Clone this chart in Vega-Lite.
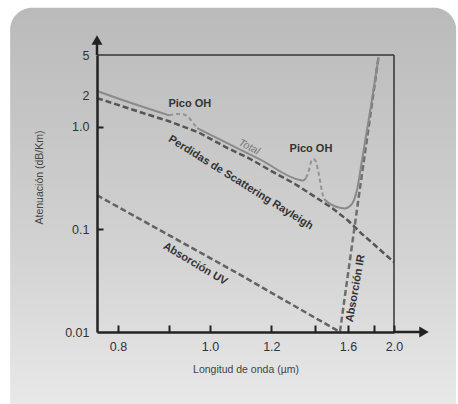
{
  "$schema": "https://vega.github.io/schema/vega-lite/v6.json",
  "width": 297,
  "height": 277,
  "autosize": {"type": "none"},
  "padding": {"left": 97, "top": 55, "right": 64, "bottom": 72},
  "background": "#ffffff",
  "config": {"view": {"stroke": null}, "font": "Liberation Sans", "axis": {"zindex": 3}},
  "datasets": {
    "curvas": [
      {"curva": "Rayleigh", "tramo": "Rayleigh", "lambda": 0.765, "valor": 1.9},
      {"curva": "Rayleigh", "tramo": "Rayleigh", "lambda": 0.85, "valor": 1.34},
      {"curva": "Rayleigh", "tramo": "Rayleigh", "lambda": 0.9, "valor": 1.13},
      {"curva": "Rayleigh", "tramo": "Rayleigh", "lambda": 0.97, "valor": 0.88},
      {"curva": "Rayleigh", "tramo": "Rayleigh", "lambda": 1.05, "valor": 0.62},
      {"curva": "Rayleigh", "tramo": "Rayleigh", "lambda": 1.12, "valor": 0.49},
      {"curva": "Rayleigh", "tramo": "Rayleigh", "lambda": 1.2, "valor": 0.37},
      {"curva": "Rayleigh", "tramo": "Rayleigh", "lambda": 1.3, "valor": 0.277},
      {"curva": "Rayleigh", "tramo": "Rayleigh", "lambda": 1.4, "valor": 0.207},
      {"curva": "Rayleigh", "tramo": "Rayleigh", "lambda": 1.5, "valor": 0.16},
      {"curva": "Rayleigh", "tramo": "Rayleigh", "lambda": 1.6, "valor": 0.122},
      {"curva": "Rayleigh", "tramo": "Rayleigh", "lambda": 1.7, "valor": 0.091},
      {"curva": "Rayleigh", "tramo": "Rayleigh", "lambda": 1.8, "valor": 0.072},
      {"curva": "Rayleigh", "tramo": "Rayleigh", "lambda": 1.9, "valor": 0.058},
      {"curva": "Rayleigh", "tramo": "Rayleigh", "lambda": 2.0, "valor": 0.048},
      {"curva": "UV", "tramo": "UV", "lambda": 0.765, "valor": 0.215},
      {"curva": "UV", "tramo": "UV", "lambda": 1.07, "valor": 0.039},
      {"curva": "UV", "tramo": "UV", "lambda": 1.54, "valor": 0.0101},
      {"curva": "IR", "tramo": "IR", "lambda": 1.546, "valor": 0.0101},
      {"curva": "IR", "tramo": "IR", "lambda": 1.675, "valor": 0.193},
      {"curva": "IR", "tramo": "IR", "lambda": 1.843, "valor": 4.64},
      {"curva": "Total", "tramo": "T1", "lambda": 0.765, "valor": 2.23},
      {"curva": "Total", "tramo": "T1", "lambda": 0.821, "valor": 1.72},
      {"curva": "Total", "tramo": "T1", "lambda": 0.9, "valor": 1.29},
      {"curva": "Pico OH", "tramo": "OH1", "lambda": 0.9, "valor": 1.29},
      {"curva": "Pico OH", "tramo": "OH1", "lambda": 0.918, "valor": 1.33},
      {"curva": "Pico OH", "tramo": "OH1", "lambda": 0.932, "valor": 1.32},
      {"curva": "Pico OH", "tramo": "OH1", "lambda": 0.944, "valor": 1.24},
      {"curva": "Pico OH", "tramo": "OH1", "lambda": 0.956, "valor": 1.09},
      {"curva": "Pico OH", "tramo": "OH1", "lambda": 0.966, "valor": 0.97},
      {"curva": "Total", "tramo": "T2", "lambda": 0.966, "valor": 0.97},
      {"curva": "Total", "tramo": "T2", "lambda": 1.058, "valor": 0.67},
      {"curva": "Total", "tramo": "T2", "lambda": 1.157, "valor": 0.48},
      {"curva": "Total", "tramo": "T2", "lambda": 1.324, "valor": 0.302},
      {"curva": "Total", "tramo": "T2", "lambda": 1.338, "valor": 0.299},
      {"curva": "Total", "tramo": "T2", "lambda": 1.353, "valor": 0.316},
      {"curva": "Pico OH", "tramo": "OH2", "lambda": 1.353, "valor": 0.316},
      {"curva": "Pico OH", "tramo": "OH2", "lambda": 1.368, "valor": 0.378},
      {"curva": "Pico OH", "tramo": "OH2", "lambda": 1.378, "valor": 0.453},
      {"curva": "Pico OH", "tramo": "OH2", "lambda": 1.391, "valor": 0.484},
      {"curva": "Pico OH", "tramo": "OH2", "lambda": 1.405, "valor": 0.453},
      {"curva": "Pico OH", "tramo": "OH2", "lambda": 1.415, "valor": 0.378},
      {"curva": "Pico OH", "tramo": "OH2", "lambda": 1.426, "valor": 0.302},
      {"curva": "Pico OH", "tramo": "OH2", "lambda": 1.438, "valor": 0.231},
      {"curva": "Pico OH", "tramo": "OH2", "lambda": 1.449, "valor": 0.198},
      {"curva": "Total", "tramo": "T3", "lambda": 1.449, "valor": 0.198},
      {"curva": "Total", "tramo": "T3", "lambda": 1.484, "valor": 0.177},
      {"curva": "Total", "tramo": "T3", "lambda": 1.527, "valor": 0.165},
      {"curva": "Total", "tramo": "T3", "lambda": 1.579, "valor": 0.16},
      {"curva": "Total", "tramo": "T3", "lambda": 1.614, "valor": 0.169},
      {"curva": "Total", "tramo": "T3", "lambda": 1.643, "valor": 0.193},
      {"curva": "Total", "tramo": "T3", "lambda": 1.665, "valor": 0.242},
      {"curva": "Total", "tramo": "T3", "lambda": 1.704, "valor": 0.474},
      {"curva": "Total", "tramo": "T3", "lambda": 1.744, "valor": 0.93},
      {"curva": "Total", "tramo": "T3", "lambda": 1.786, "valor": 1.82},
      {"curva": "Total", "tramo": "T3", "lambda": 1.845, "valor": 4.78}
    ]
  },
  "layer": [
    {
      "data": {"values": [{}]},
      "mark": {"type": "rect", "cornerRadius": 22, "color": {"gradient": "linear", "x1": 0, "y1": 0, "x2": 0, "y2": 1, "stops": [{"offset": 0, "color": "#bababa"}, {"offset": 0.5, "color": "#d3d3d3"}, {"offset": 0.85, "color": "#ececec"}, {"offset": 1, "color": "#fbfbfb"}]}},
      "encoding": {
        "x": {"datum": 0.648},
        "x2": {"datum": 3.02},
        "y": {"datum": 14.4},
        "y2": {"datum": 0.0002}
      }
    },
    {
      "data": {"name": "curvas"},
      "transform": [{"filter": "datum.curva == 'Rayleigh' || datum.curva == 'UV' || datum.curva == 'IR'"}],
      "mark": {"type": "line", "strokeWidth": 2.5, "strokeDash": [6, 3]},
      "encoding": {
        "x": {
          "field": "lambda", "type": "quantitative",
          "scale": {"type": "pow", "exponent": -1, "domain": [0.765, 2.0], "zero": false, "nice": false},
          "axis": {
            "zindex": 3,
            "title": "Longitud de onda (µm)",
            "values": [0.8, 0.9, 1, 1.2, 1.4, 1.6, 1.8, 2],
            "labelExpr": "indexof([0.8, 1, 1.2, 1.6, 2], datum.value) >= 0 ? format(datum.value, '.1f') : ''",
            "grid": false,
            "domainColor": "#222222", "domainWidth": 2.5,
            "tickColor": "#222222", "tickWidth": 2, "tickSize": -7,
            "labelPadding": 15, "labelFontSize": 12.5, "labelColor": "#333333", "labelFont": "Liberation Sans",
            "labelFlush": false, "labelOverlap": false,
            "titleFont": "Liberation Sans", "titleFontSize": 10.5, "titleFontWeight": "normal", "titleColor": "#444444",
            "titleY": 32
          }
        },
        "y": {
          "field": "valor", "type": "quantitative",
          "scale": {"type": "log", "domain": [0.01, 5], "nice": false},
          "axis": {
            "zindex": 3,
            "title": "Atenuación (dB/Km)",
            "values": [0.01, 0.1, 1, 2, 5],
            "labelExpr": "datum.value == 1 ? '1.0' : '' + datum.value",
            "grid": false,
            "domainColor": "#222222", "domainWidth": 2.5,
            "tickColor": "#222222", "tickWidth": 2, "tickSize": -6,
            "tickOpacity": {"condition": {"test": "datum.value == 1 || datum.value == 0.1", "value": 1}, "value": 0},
            "labelPadding": 14, "labelFontSize": 12.5, "labelColor": "#333333", "labelFont": "Liberation Sans",
            "labelFlush": false, "labelOverlap": false,
            "titleFont": "Liberation Sans", "titleFontSize": 10.5, "titleFontWeight": "normal", "titleColor": "#444444",
            "titleX": -53, "titleY": 122
          }
        },
        "detail": {"field": "tramo"},
        "color": {"field": "curva", "type": "nominal", "scale": {"domain": ["Rayleigh", "UV", "IR"], "range": ["#555555", "#626262", "#6e6e6e"]}, "legend": null}
      }
    },
    {
      "data": {"values": [{}]},
      "mark": {"type": "rule", "color": "#333333", "strokeWidth": 1.5},
      "encoding": {
        "x": {"datum": 0.765},
        "x2": {"datum": 2.0},
        "y": {"datum": 5}
      }
    },
    {
      "data": {"values": [{}]},
      "mark": {"type": "rule", "color": "#333333", "strokeWidth": 1.5},
      "encoding": {
        "x": {"datum": 2.0},
        "y": {"datum": 0.01},
        "y2": {"datum": 5}
      }
    },
    {
      "data": {"values": [{}]},
      "mark": {"type": "rule", "color": "#222222", "strokeWidth": 2.5},
      "encoding": {
        "x": {"datum": 0.765},
        "y": {"datum": 5},
        "y2": {"datum": 6.7}
      }
    },
    {
      "data": {"values": [{}]},
      "mark": {"type": "rule", "color": "#222222", "strokeWidth": 2.5},
      "encoding": {
        "x": {"datum": 2.0},
        "x2": {"datum": 2.33},
        "y": {"datum": 0.01}
      }
    },
    {
      "data": {"values": [{}]},
      "mark": {"type": "point", "shape": "triangle-up", "filled": true, "size": 120, "color": "#222222", "opacity": 1},
      "encoding": {
        "x": {"datum": 0.765},
        "y": {"datum": 7.0}
      }
    },
    {
      "data": {"values": [{}]},
      "mark": {"type": "point", "shape": "triangle-right", "filled": true, "size": 120, "color": "#222222", "opacity": 1},
      "encoding": {
        "x": {"datum": 2.39},
        "y": {"datum": 0.01}
      }
    },
    {
      "data": {"name": "curvas"},
      "transform": [{"filter": "datum.curva == 'Total'"}],
      "mark": {"type": "line", "strokeWidth": 2, "color": "#8a8a8a", "interpolate": "monotone"},
      "encoding": {
        "x": {"field": "lambda", "type": "quantitative"},
        "y": {"field": "valor", "type": "quantitative"},
        "detail": {"field": "tramo"}
      }
    },
    {
      "data": {"name": "curvas"},
      "transform": [{"filter": "datum.curva == 'Pico OH'"}],
      "mark": {"type": "line", "strokeWidth": 2, "color": "#939393", "strokeDash": [4, 3], "interpolate": "monotone"},
      "encoding": {
        "x": {"field": "lambda", "type": "quantitative"},
        "y": {"field": "valor", "type": "quantitative"},
        "detail": {"field": "tramo"}
      }
    },
    {
      "data": {"values": [{}]},
      "mark": {"type": "text", "text": "Pico OH", "fontWeight": "bold", "fontSize": 11, "color": "#333333", "align": "center", "baseline": "middle"},
      "encoding": {
        "x": {"datum": 0.948},
        "y": {"datum": 1.665}
      }
    },
    {
      "data": {"values": [{}]},
      "mark": {"type": "text", "text": "Pico OH", "fontWeight": "bold", "fontSize": 11, "color": "#333333", "align": "center", "baseline": "middle"},
      "encoding": {
        "x": {"datum": 1.378},
        "y": {"datum": 0.607}
      }
    },
    {
      "data": {"values": [{}]},
      "mark": {"type": "text", "text": "Total", "fontStyle": "italic", "fontSize": 10.5, "color": "#777777", "align": "center", "baseline": "middle", "angle": 27},
      "encoding": {
        "x": {"datum": 1.1185},
        "y": {"datum": 0.634}
      }
    },
    {
      "data": {"values": [{}]},
      "mark": {"type": "text", "text": "Perdidas de Scattering Rayleigh", "fontWeight": "bold", "fontSize": 11, "color": "#333333", "align": "center", "baseline": "middle", "angle": 32},
      "encoding": {
        "x": {"datum": 1.091},
        "y": {"datum": 0.2846}
      }
    },
    {
      "data": {"values": [{}]},
      "mark": {"type": "text", "text": "Absorción UV", "fontWeight": "bold", "fontSize": 11, "color": "#333333", "align": "center", "baseline": "middle", "angle": 31},
      "encoding": {
        "x": {"datum": 0.961},
        "y": {"datum": 0.0459}
      }
    },
    {
      "data": {"values": [{}]},
      "mark": {"type": "text", "text": "Absorción IR", "fontWeight": "bold", "fontSize": 11, "color": "#333333", "align": "center", "baseline": "middle", "angle": -80},
      "encoding": {
        "x": {"datum": 1.655},
        "y": {"datum": 0.0266}
      }
    }
  ]
}
